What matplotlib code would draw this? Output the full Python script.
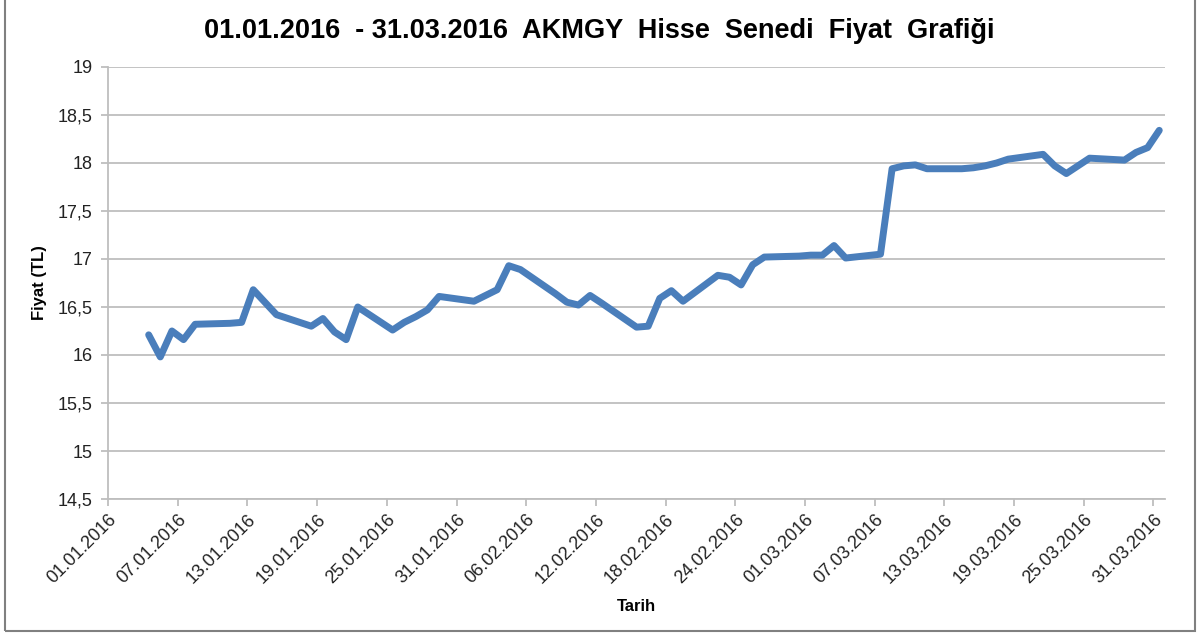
import numpy as np
import pandas as pd
import matplotlib
matplotlib.use('Agg')
import matplotlib.pyplot as plt
import matplotlib.dates as mdates
from matplotlib.patches import Rectangle

plt.rcParams['font.family'] = ['Liberation Sans', 'DejaVu Sans']

# daily closing prices (trading days only)
tarih = ['2016-01-04', '2016-01-05', '2016-01-06', '2016-01-07', '2016-01-08',
         '2016-01-11', '2016-01-12', '2016-01-13', '2016-01-14', '2016-01-15',
         '2016-01-18', '2016-01-19', '2016-01-20', '2016-01-21', '2016-01-22',
         '2016-01-25', '2016-01-26', '2016-01-27', '2016-01-28', '2016-01-29',
         '2016-02-01', '2016-02-02', '2016-02-03', '2016-02-04', '2016-02-05',
         '2016-02-08', '2016-02-09', '2016-02-10', '2016-02-11', '2016-02-12',
         '2016-02-15', '2016-02-16', '2016-02-17', '2016-02-18', '2016-02-19',
         '2016-02-22', '2016-02-23', '2016-02-24', '2016-02-25', '2016-02-26',
         '2016-02-29', '2016-03-01', '2016-03-02', '2016-03-03', '2016-03-04',
         '2016-03-07', '2016-03-08', '2016-03-09', '2016-03-10', '2016-03-11',
         '2016-03-14', '2016-03-15', '2016-03-16', '2016-03-17', '2016-03-18',
         '2016-03-21', '2016-03-22', '2016-03-23', '2016-03-24', '2016-03-25',
         '2016-03-28', '2016-03-29', '2016-03-30', '2016-03-31']
fiyat = [16.21, 15.98, 16.25, 16.16, 16.32,
         16.33, 16.34, 16.68, 16.55, 16.42,
         16.30, 16.38, 16.24, 16.16, 16.50,
         16.26, 16.34, 16.40, 16.47, 16.61,
         16.56, 16.62, 16.68, 16.93, 16.89,
         16.64, 16.55, 16.52, 16.62, 16.54,
         16.29, 16.30, 16.59, 16.67, 16.56,
         16.83, 16.81, 16.73, 16.94, 17.02,
         17.03, 17.04, 17.04, 17.14, 17.01,
         17.05, 17.94, 17.97, 17.98, 17.94,
         17.94, 17.95, 17.97, 18.00, 18.04,
         18.09, 17.97, 17.89, 17.97, 18.05,
         18.03, 18.11, 18.16, 18.34]

y_ticks = [14.5, 15, 15.5, 16, 16.5, 17, 17.5, 18, 18.5, 19]

baslik = '01.01.2016  - 31.03.2016  AKMGY  Hisse  Senedi  Fiyat  Grafiği'

x = pd.to_datetime(tarih) + pd.Timedelta(hours=12)

fig = plt.figure(figsize=(11.99, 6.36), dpi=100)
ax = fig.add_axes([0.0901, 0.2154, 0.8816, 0.6793])

ax.plot(x, fiyat, color='#4A7EBB', lw=5, solid_joinstyle='round', solid_capstyle='round')

ax.set_xlim(pd.Timestamp('2016-01-01'), pd.Timestamp('2016-04-01'))
ax.set_ylim(14.5, 19)
ax.set_yticks(y_ticks)
ax.set_yticklabels([('%g' % v).replace('.', ',') for v in y_ticks])

x_ticks = pd.date_range('2016-01-01', '2016-03-31', freq='6D')
ax.set_xticks(x_ticks)
ax.set_xticklabels([d.strftime('%d.%m.%Y') for d in x_ticks], rotation=45,
                   ha='right', rotation_mode='anchor')

ax.grid(axis='y', color='#BEBEBE', lw=1.3)
ax.set_axisbelow(True)
for s in ['top', 'right']:
    ax.spines[s].set_visible(False)
for s in ['left', 'bottom']:
    ax.spines[s].set_color('#BEBEBE')
    ax.spines[s].set_linewidth(1.3)
ax.tick_params(axis='both', colors='#BEBEBE', length=5, width=1.3, labelsize=13,
               labelcolor='#222222')
ax.tick_params(axis='y', pad=6)

ax.set_xlabel('Tarih', fontsize=12, fontweight='bold', labelpad=9)
ax.set_ylabel('Fiyat (TL)', fontsize=12, fontweight='bold', labelpad=8)

fig.text(0.5, 0.952, baslik, ha='center', va='center', fontsize=19.5, fontweight='bold')

fig.patches.append(Rectangle((5 / 1199, 5 / 636), 1190 / 1199, 1.1, transform=fig.transFigure,
                             fill=False, edgecolor='#808080', lw=1.5))

fig.savefig('out.png', dpi=100)
